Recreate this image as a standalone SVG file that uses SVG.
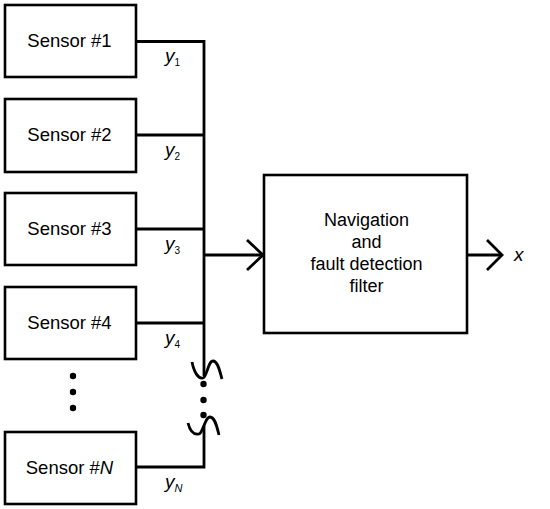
<svg xmlns="http://www.w3.org/2000/svg" width="550" height="509" viewBox="0 0 550 509">
<style>
.box{fill:#fff;stroke:#000;stroke-width:2.6}
.ln{fill:none;stroke:#000;stroke-width:2.8}
.t{font-family:"Liberation Sans",Arial,sans-serif;font-size:18.5px;fill:#000}
.f{font-family:"Liberation Sans",Arial,sans-serif;font-size:18px;fill:#000}
.c{text-anchor:middle}
.v{font-family:"Liberation Sans",Arial,sans-serif;font-size:19px;font-style:italic;fill:#000}
.s{font-size:10px;font-style:normal}
.si{font-size:11px;font-style:italic}
</style>
<rect width="550" height="509" fill="#fff"/>
<g id="connectors">
<path class="ln" d="M136,41.5 H204 V376"/>
<path class="ln" d="M136,135 H204"/>
<path class="ln" d="M136,229 H204"/>
<path class="ln" d="M136,323 H204"/>
<path class="ln" d="M136,467 H204 V426"/>
<path class="ln" d="M192,362 C194,372 198,379 203,378 C207,377 208,361 213,361 C218,361 220,372 222,379"/>
<path class="ln" d="M188,423 C190,431 194,435 199,434 C203,433 205,417 210,417 C215,417 217,427 219,435"/>
<circle cx="203.5" cy="384" r="3.2"/>
<circle cx="203.5" cy="400" r="3.2"/>
<circle cx="203.5" cy="415" r="3.2"/>
<path class="ln" d="M204,255 H263"/>
<polyline class="ln" points="247,240 263,255 247,270"/>
<path class="ln" d="M467,255 H502"/>
<polyline class="ln" points="487,240 502,255 487,270"/>
<text class="v" x="165" y="62">y<tspan class="s" dy="4">1</tspan></text>
<text class="v" x="165" y="156">y<tspan class="s" dy="4">2</tspan></text>
<text class="v" x="165" y="250">y<tspan class="s" dy="4">3</tspan></text>
<text class="v" x="165" y="344">y<tspan class="s" dy="4">4</tspan></text>
<text class="v" x="165" y="488">y<tspan class="si" dy="4">N</tspan></text>
<text class="v" x="514" y="261">x</text>
</g>
<g id="sensor1"><rect class="box" x="5" y="5" width="131" height="72"/><text class="t c" x="69.5" y="47">Sensor #1</text></g>
<g id="sensor2"><rect class="box" x="5" y="99" width="131" height="73"/><text class="t c" x="69.5" y="141">Sensor #2</text></g>
<g id="sensor3"><rect class="box" x="5" y="193" width="131" height="72"/><text class="t c" x="69.5" y="235">Sensor #3</text></g>
<g id="sensor4"><rect class="box" x="5" y="287" width="131" height="72"/><text class="t c" x="69.5" y="329">Sensor #4</text></g>
<g id="ellipsis"><circle cx="73" cy="376" r="3.2"/><circle cx="73" cy="392" r="3.2"/><circle cx="73" cy="408" r="3.2"/></g>
<g id="sensorN"><rect class="box" x="5" y="432" width="131" height="72"/><text class="t c" x="69.5" y="474">Sensor #<tspan font-style="italic">N</tspan></text></g>
<g id="filter"><rect class="box" x="264" y="175" width="203" height="158"/>
<text class="f c" x="366.5" y="226">Navigation</text>
<text class="f c" x="366.5" y="248">and</text>
<text class="f c" x="366.5" y="270">fault detection</text>
<text class="f c" x="366.5" y="292">filter</text>
</g>
</svg>
